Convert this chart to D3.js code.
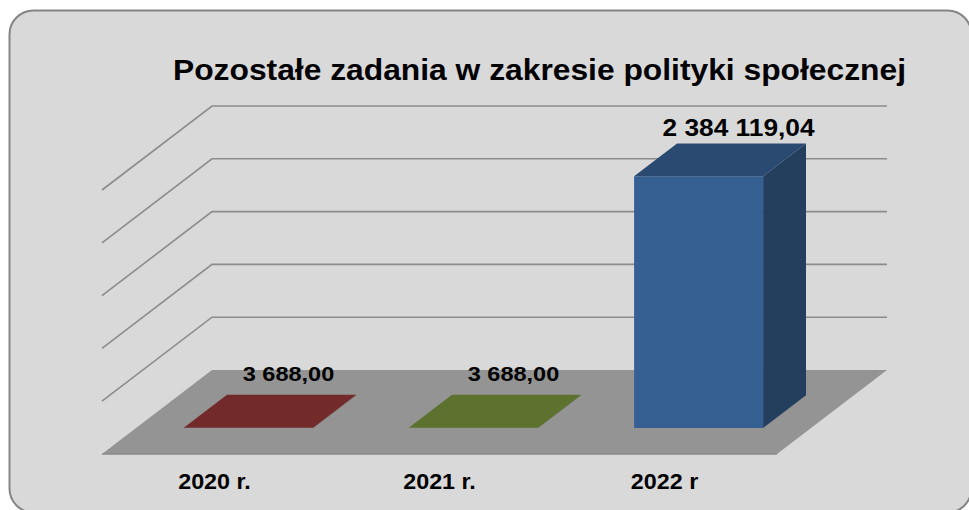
<!DOCTYPE html>
<html>
<head>
<meta charset="utf-8">
<script src="https://cdn.jsdelivr.net/npm/d3@7"></script>
<style>
  html, body { margin: 0; padding: 0; background: #ffffff; }
  svg { display: block; }
  text { font-family: "Liberation Sans", Arial, sans-serif; font-weight: bold; fill: #000; }
</style>
</head>
<body>
<svg id="chart" width="969" height="510"></svg>
<script>
// Chart data
const title = "Pozostałe zadania w zakresie polityki społecznej";
const categories = ["2020 r.", "2021 r.", "2022 r"];
const values = [3688.00, 3688.00, 2384119.04];
const valueLabels = ["3 688,00", "3 688,00", "2 384 119,04"];
const tickValues = [500000, 1000000, 1500000, 2000000, 2500000];
const colors = [
  { front: "#722a2a", top: "#722a2a", side: "#5a2020" },
  { front: "#5d722f", top: "#5d722f", side: "#4a5b25" },
  { front: "#366092", top: "#2a4a72", side: "#243e5e" }
];

const svg = d3.select("#chart");
const W = 969, H = 510;

// Panel with rounded corners
svg.append("rect")
  .attr("x", 9.5).attr("y", 10.5)
  .attr("width", 962).attr("height", 502)
  .attr("rx", 24).attr("ry", 24)
  .attr("fill", "#d9d9d9")
  .attr("stroke", "#858585")
  .attr("stroke-width", 2);

// 3D projection: floor front edge at y = floorY, depth moves up-right
const floorY = 454;
const depthDX = 110, depthDY = 84;
const x = d3.scaleBand().domain(categories).range([102, 777])
  .paddingInner(0.4267).paddingOuter(0.2133);
const y = d3.scaleLinear().domain([0, 2500000]).range([0, 264]);
const depth = d3.scaleLinear().domain([0, 1]).range([0, 1]);
const barDepth = [0.31, 0.70];

function project(px, d, h) {
  return [px + depthDX * depth(d), floorY - depthDY * depth(d) - h];
}
const line = d3.line();

// Floor
const floorPts = [project(102, 0, 0), project(777, 0, 0), project(777, 1, 0), project(102, 1, 0)];
svg.append("path")
  .attr("d", line(floorPts) + "Z")
  .attr("fill", "#949494");
svg.append("path")
  .attr("d", line([project(102, 0, 0), project(777, 0, 0)]))
  .attr("stroke", "#8a8a8a").attr("stroke-width", 1.5).attr("fill", "none");

// Gridlines on the side wall and back wall
const grid = svg.append("g").attr("fill", "none").attr("stroke", "#8c8c8c").attr("stroke-width", 1.6);
tickValues.forEach(t => {
  const h = y(t);
  grid.append("path").attr("d", line([project(102, 0, h), project(102, 1, h), project(777, 1, h)]));
});

// Bars
const bars = svg.append("g");
categories.forEach((c, i) => {
  const x0 = x(c), x1 = x0 + x.bandwidth();
  const h = y(values[i]);
  const [d0, d1] = barDepth;
  const col = colors[i];
  const front = [project(x0, d0, 0), project(x1, d0, 0), project(x1, d0, h), project(x0, d0, h)];
  const side = [project(x1, d0, 0), project(x1, d1, 0), project(x1, d1, h), project(x1, d0, h)];
  const top = [project(x0, d0, h), project(x1, d0, h), project(x1, d1, h), project(x0, d1, h)];
  bars.append("path").attr("d", line(side) + "Z").attr("fill", col.side);
  bars.append("path").attr("d", line(front) + "Z").attr("fill", col.front);
  bars.append("path").attr("d", line(top) + "Z").attr("fill", col.top);
});

// Value labels above each bar
const maxVal = d3.max(values);
categories.forEach((c, i) => {
  const big = values[i] === maxVal;
  const cx = x(c) + x.bandwidth() / 2;
  const [lx, ly] = project(cx, barDepth[1], y(values[i]));
  svg.append("text")
    .attr("transform", `translate(${lx - 3},${ly - (big ? 7.5 : 14)}) scale(1.12,1)`)
    .attr("text-anchor", "middle")
    .attr("font-size", big ? 23.5 : 21)
    .text(valueLabels[i]);
});

// Category labels along the front edge
categories.forEach(c => {
  const [lx] = project(x(c) + x.bandwidth() / 2, 0, 0);
  svg.append("text")
    .attr("transform", `translate(${lx},489) scale(1.06,1)`)
    .attr("text-anchor", "middle")
    .attr("font-size", 22)
    .text(c);
});

// Title
svg.append("text")
  .attr("x", 539.5).attr("y", 79.5)
  .attr("text-anchor", "middle")
  .attr("font-size", 30)
  .attr("textLength", 733)
  .attr("lengthAdjust", "spacingAndGlyphs")
  .text(title);
</script>
</body>
</html>
